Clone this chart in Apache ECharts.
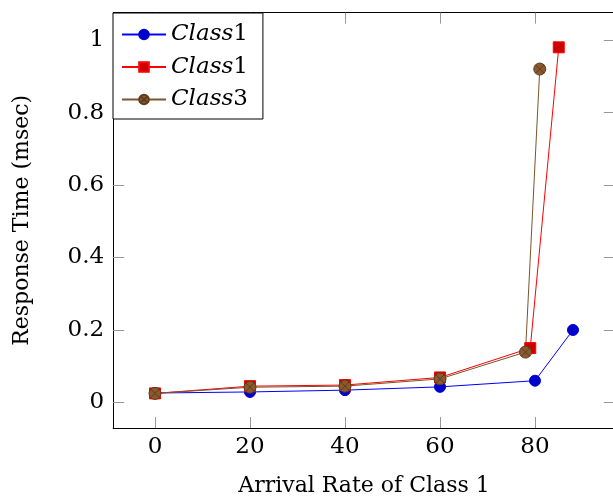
<!DOCTYPE html>
<html><head><meta charset="utf-8">
<script src="https://cdn.jsdelivr.net/npm/echarts@6/dist/echarts.min.js"></script>
<style>html,body{margin:0;padding:0;background:#fff}#c{width:613px;height:496px}</style>
</head><body><div id="c"></div>
<script>
var xTicks = [0, 20, 40, 60, 80];
var yTicks = [0, 0.2, 0.4, 0.6, 0.8, 1];
var class1X = [0, 20, 40, 60, 80, 88];
var class1Y = [0.026, 0.029, 0.034, 0.043, 0.06, 0.2];
var class2X = [0, 20, 40, 60, 79, 85];
var class2Y = [0.025, 0.045, 0.048, 0.069, 0.15, 0.98];
var class3X = [0, 20, 40, 60, 78, 81];
var class3Y = [0.025, 0.042, 0.045, 0.065, 0.139, 0.92];
var legendLabels = [['Class', '1'], ['Class', '1'], ['Class', '3']];
var xTitle = 'Arrival Rate of Class 1';
var yTitle = 'Response Time (msec)';

function pairs(xs, ys) { return xs.map(function (x, i) { return [x, ys[i]]; }); }

var FONT = 'DejaVu Serif';
var otimes = 'path://M10,0A10,10,0,1,1,10,20A10,10,0,1,1,10,0ZM2.93,2.93L17.07,17.07M17.07,2.93L2.93,17.07';
var tickStyle = { show: true, inside: true, length: 11, lineStyle: { color: '#999', width: 1 } };
var lineAxis = { show: true, onZero: false, lineStyle: { color: '#000', width: 1 } };

var chart = echarts.init(document.getElementById('c'), null, { renderer: 'canvas' });
chart.setOption({
  animation: false,
  backgroundColor: '#fff',
  grid: { left: 113.2, top: 12.7, width: 501.6, height: 415.3, containLabel: false, outerBoundsMode: 'none' },
  xAxis: [{
    type: 'value', min: -8.8, max: 96.8, position: 'bottom',
    axisLine: lineAxis,
    axisTick: Object.assign({ customValues: xTicks }, tickStyle),
    axisLabel: { customValues: xTicks, margin: 8, fontFamily: FONT, fontSize: 23, color: '#000' },
    splitLine: { show: false },
    name: xTitle, nameLocation: 'middle', nameGap: 47,
    nameTextStyle: { fontFamily: FONT, fontSize: 22, color: '#000' }
  }, {
    type: 'value', min: -8.8, max: 96.8, position: 'top',
    axisLine: lineAxis,
    axisTick: Object.assign({ customValues: xTicks }, tickStyle),
    axisLabel: { show: false }, splitLine: { show: false }
  }],
  yAxis: [{
    type: 'value', min: -0.0705, max: 1.0755, position: 'left',
    axisLine: lineAxis,
    axisTick: Object.assign({ customValues: yTicks }, tickStyle),
    axisLabel: { customValues: yTicks, margin: 9, fontFamily: FONT, fontSize: 23, color: '#000' },
    splitLine: { show: false },
    name: yTitle, nameLocation: 'middle', nameGap: 80,
    nameTextStyle: { fontFamily: FONT, fontSize: 22, color: '#000' }
  }, {
    type: 'value', min: -0.0705, max: 1.0755, position: 'right',
    axisLine: lineAxis,
    axisTick: Object.assign({ customValues: yTicks }, tickStyle),
    axisLabel: { show: false }, splitLine: { show: false }
  }],
  legend: {
    left: 113, top: 13, orient: 'vertical',
    data: ['s1', 's2', 's3'],
    itemWidth: 44, itemHeight: 12, itemGap: 9.5,
    padding: [10, 15, 8, 8],
    borderColor: '#000', borderWidth: 1, backgroundColor: '#fff',
    formatter: function (name) {
      var l = legendLabels[['s1', 's2', 's3'].indexOf(name)];
      return '{i|' + l[0] + '}{n|' + l[1] + '}';
    },
    textStyle: {
      color: '#000', fontFamily: FONT, fontSize: 23, lineHeight: 22,
      rich: {
        i: { fontFamily: FONT, fontStyle: 'italic', fontSize: 23, lineHeight: 22, color: '#000' },
        n: { fontFamily: FONT, fontSize: 23, lineHeight: 22, color: '#000' }
      }
    }
  },
  series: [{
    name: 's1', type: 'line', data: pairs(class1X, class1Y),
    symbol: 'circle', symbolSize: 11,
    lineStyle: { color: '#0000ff', width: 1 },
    itemStyle: { color: '#0000cc', borderColor: '#0000cc', borderWidth: 1 }
  }, {
    name: 's2', type: 'line', data: pairs(class2X, class2Y),
    symbol: 'rect', symbolSize: 11,
    lineStyle: { color: '#ff0000', width: 1 },
    itemStyle: { color: '#cc0000', borderColor: '#ff0000', borderWidth: 1 }
  }, {
    name: 's3', type: 'line', data: pairs(class3X, class3Y),
    symbol: otimes, symbolSize: 12,
    lineStyle: { color: '#7a5430', width: 1 },
    itemStyle: { color: '#8a5a2e', borderColor: '#5c3d1e', borderWidth: 1 }
  }]
});
</script></body></html>
